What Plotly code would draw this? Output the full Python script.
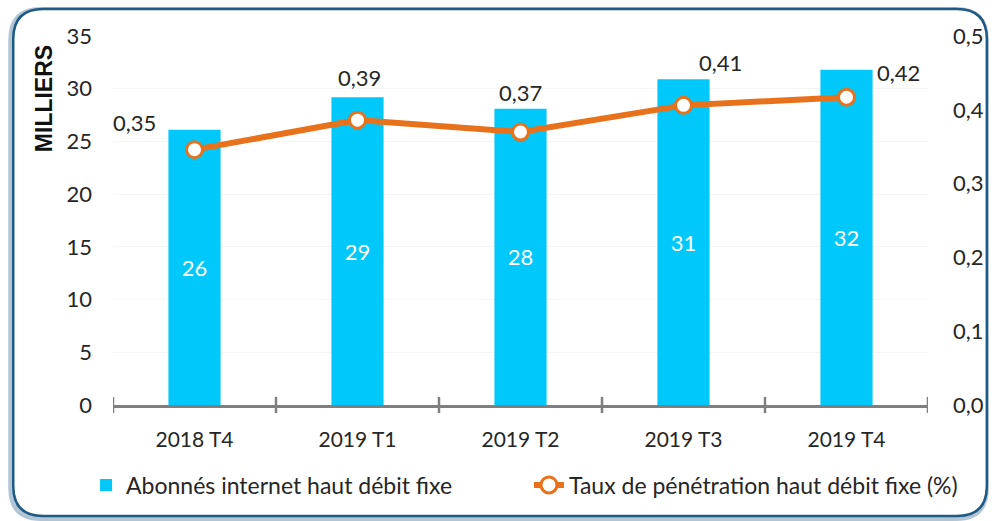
import plotly.graph_objects as go

categories = ["2018 T4", "2019 T1", "2019 T2", "2019 T3", "2019 T4"]
abonnes = [26.1, 29.2, 28.1, 30.9, 31.8]
abonnes_labels = ["26", "29", "28", "31", "32"]
taux = [0.346, 0.386, 0.370, 0.406, 0.417]
taux_labels = ["0,35", "0,39", "0,37", "0,41", "0,42"]
left_ticks = [0, 5, 10, 15, 20, 25, 30, 35]
right_ticks = [0.0, 0.1, 0.2, 0.3, 0.4, 0.5]

W, H = 996, 521
L, R, T, B = 113, 66, 36, 116
PW, PH = W - L - R, H - T - B

def px(x):
    return (x - L) / PW

def py(y):
    return (H - B - y) / PH

BAR = "#00C8FA"
ORANGE = "#E8711C"
FONT = "Lato"

fig = go.Figure()
fig.add_trace(go.Bar(
    x=categories, y=abonnes, name="Abonnés internet haut débit fixe",
    marker=dict(color=BAR, line=dict(width=0)), width=0.32,
    text=abonnes_labels, textposition="inside", insidetextanchor="middle",
    textfont=dict(color="white", size=22, family=FONT), yaxis="y",
    legend="legend",
))
fig.add_trace(go.Scatter(
    x=categories, y=taux, name="Taux de pénétration haut débit fixe (%)",
    mode="lines+markers", line=dict(color=ORANGE, width=6),
    marker=dict(size=16, color="white", line=dict(color=ORANGE, width=3)),
    yaxis="y2", legend="legend2",
))

# data labels for line
shifts = [(-60, 27), (2, 43), (0, 39), (37, 43), (52, 25)]
for c, v, t, (dx, dy) in zip(categories, taux, taux_labels, shifts):
    fig.add_annotation(x=c, y=v, yref="y2", text=t, showarrow=False,
                       xshift=dx, yshift=dy,
                       font=dict(size=22, family=FONT, color="#262626"))

# y title
fig.add_annotation(x=px(44), y=py(99), xref="paper", yref="paper",
                   xanchor="center", yanchor="middle",
                   text="<b>MILLIERS</b>", textangle=-90, showarrow=False,
                   font=dict(size=23, family="Liberation Sans", color="#111111"))

shapes = []
def rrect(x0, y0, x1, y1, r):
    return (f"M {px(x0 + r)},{py(y0)} L {px(x1 - r)},{py(y0)} "
            f"Q {px(x1)},{py(y0)} {px(x1)},{py(y0 + r)} "
            f"L {px(x1)},{py(y1 - r)} Q {px(x1)},{py(y1)} {px(x1 - r)},{py(y1)} "
            f"L {px(x0 + r)},{py(y1)} Q {px(x0)},{py(y1)} {px(x0)},{py(y1 - r)} "
            f"L {px(x0)},{py(y0 + r)} Q {px(x0)},{py(y0)} {px(x0 + r)},{py(y0)} Z")

shapes.append(dict(type="path", xref="paper", yref="paper", layer="below",
                   path=rrect(11, 10, 988, 518, 30),
                   line=dict(color="rgba(31,90,133,0.35)", width=6)))
shapes.append(dict(type="path", xref="paper", yref="paper", layer="below",
                   path=rrect(13, 9, 989, 516, 30),
                   fillcolor="white",
                   line=dict(color="#1F5A85", width=2.5)))

for i in range(len(categories) + 1):
    shapes.append(dict(type="line", xref="x", yref="paper",
                       x0=i - 0.5, x1=i - 0.5, y0=-0.022, y1=0.022,
                       line=dict(color="#7F7F7F", width=2.5)))

legend_common = dict(
    orientation="h", xanchor="left", yanchor="middle",
    font=dict(size=23, family=FONT, color="#262626"),
    bgcolor="rgba(0,0,0,0)", borderwidth=0,
)

fig.update_layout(
    width=W, height=H,
    margin=dict(l=L, r=R, t=T, b=B),
    paper_bgcolor="white", plot_bgcolor="rgba(0,0,0,0)",
    separators=", ",
    font=dict(family=FONT, color="#262626"),
    shapes=shapes,
    xaxis=dict(
        categoryorder="array", categoryarray=categories,
        range=[-0.5, len(categories) - 0.5],
        showline=True, linecolor="#7F7F7F", linewidth=2.5,
        ticks="", tickfont=dict(size=21, family=FONT, color="#262626"),
        ticklabelstandoff=14, showgrid=False, zeroline=False,
    ),
    yaxis=dict(
        range=[0, 35], tickvals=left_ticks, showline=False,
        ticks="", showgrid=True, gridcolor="#F5F5F5", zeroline=False,
        tickfont=dict(size=22, family=FONT, color="#262626"),
        ticklabelstandoff=20,
    ),
    yaxis2=dict(
        range=[0, 0.5], tickvals=right_ticks, tickformat=".1f",
        overlaying="y", side="right", showgrid=False, zeroline=False,
        ticks="", tickfont=dict(size=22, family=FONT, color="#262626"),
        ticklabelstandoff=24,
    ),
    showlegend=True,
    legend=dict(x=px(86), y=py(485), **legend_common),
    legend2=dict(x=px(530), y=py(485), **legend_common),
)

fig.write_html("out.html", config={"displayModeBar": False},
               post_script="document.body.style.margin='0';")
